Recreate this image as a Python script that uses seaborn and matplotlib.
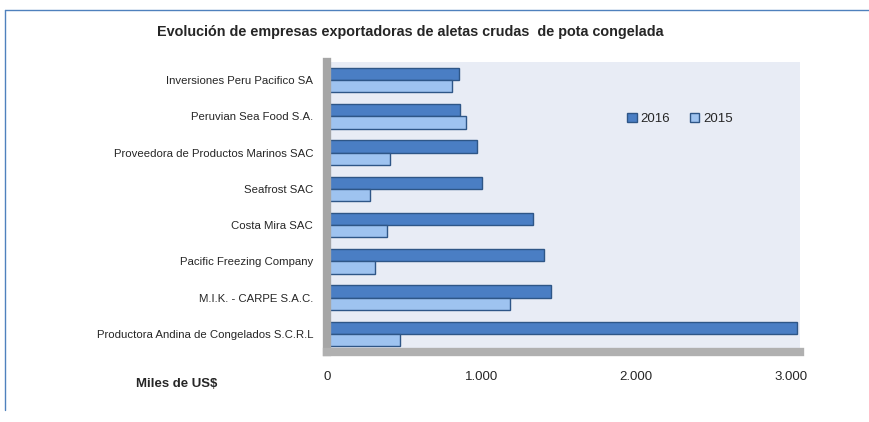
import matplotlib
matplotlib.use("Agg")
import matplotlib.pyplot as plt
import seaborn as sns
import pandas as pd
from matplotlib.lines import Line2D
from matplotlib.ticker import FuncFormatter

empresas = [
    "Inversiones Peru Pacifico SA",
    "Peruvian Sea Food S.A.",
    "Proveedora de Productos Marinos SAC",
    "Seafrost SAC",
    "Costa Mira SAC",
    "Pacific Freezing Company",
    "M.I.K. - CARPE S.A.C.",
    "Productora Andina de Congelados S.C.R.L",
]
valores_2016 = [854, 861, 971, 1003, 1333, 1404, 1450, 3042]
valores_2015 = [809, 900, 408, 278, 388, 311, 1184, 472]
anios = ["2016", "2015"]
xticks = [0, 1000, 2000, 3000]

df = pd.DataFrame({
    "empresa": empresas * 2,
    "valor": valores_2016 + valores_2015,
    "anio": ["2016"] * len(empresas) + ["2015"] * len(empresas),
})

sns.set_theme(style="white")
plt.rcParams["font.family"] = ["Liberation Sans", "DejaVu Sans"]

fig = plt.figure(figsize=(8.7, 4.22), dpi=100)
W, H = 870, 422
ax = fig.add_axes([327 / W, 1 - 352 / H, (800 - 327) / W, (352 - 62) / H])
ax.set_facecolor("#E8ECF5")

palette = {"2016": "#4A7EC4", "2015": "#9EC3F0"}
sns.barplot(data=df, y="empresa", x="valor", hue="anio", hue_order=anios,
            order=empresas, orient="h", palette=palette, width=0.68,
            saturation=1, edgecolor="#2E5687", linewidth=1.0, ax=ax)

ax.set_xlim(0, 3060)
ax.set_xticks(xticks)
ax.xaxis.set_major_formatter(FuncFormatter(lambda v, p: f"{int(v):,}".replace(",", ".")))
ax.set_xlabel("")
ax.set_ylabel("")
ax.tick_params(axis="x", length=0, pad=14, labelsize=9.5)
ax.tick_params(axis="y", length=0, pad=10, labelsize=8.2)
for s in ["top", "right"]:
    ax.spines[s].set_visible(False)
ax.spines["left"].set_color("#A6A6A6")
ax.spines["left"].set_linewidth(6)
ax.spines["bottom"].set_color("#B0B0B0")
ax.spines["bottom"].set_linewidth(6)

leg = ax.legend(loc="upper left", bbox_to_anchor=(0.61, 0.865), ncol=2, frameon=False,
                fontsize=9.5, handlelength=0.7, handleheight=0.7, handletextpad=0.3,
                columnspacing=1.5)
for h in leg.legend_handles:
    h.set_edgecolor("#2E5687")

fig.text(410 / W, 1 - 32 / H, "Evolución de empresas exportadoras de aletas crudas  de pota congelada",
         ha="center", va="center", fontsize=10.4, fontweight="bold")
fig.text(177 / W, 1 - 384 / H, "Miles de US$", ha="center", va="center",
         fontsize=9.5, fontweight="bold")

fig.add_artist(Line2D([5 / W, 5 / W], [1 - 10 / H, 1 - 410 / H], transform=fig.transFigure,
                      color="#4F81BD", linewidth=1))
fig.add_artist(Line2D([5 / W, 1], [1 - 10 / H, 1 - 10 / H], transform=fig.transFigure,
                      color="#4F81BD", linewidth=1))

fig.savefig("out.png", dpi=100)
